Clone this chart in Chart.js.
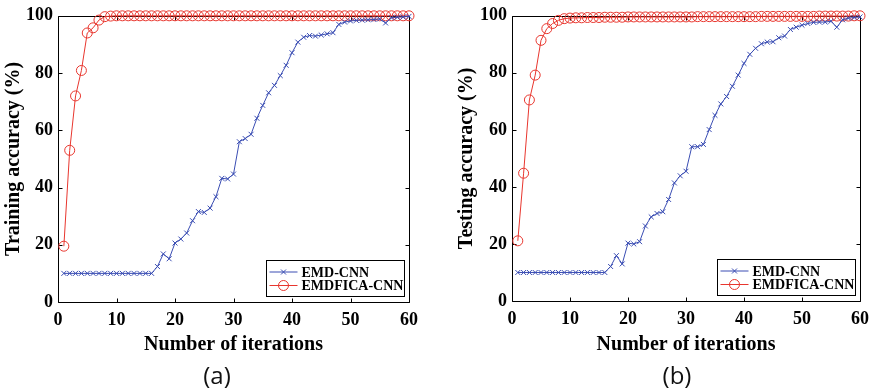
<!DOCTYPE html>
<html>
<head>
<meta charset="utf-8">
<script src="https://cdn.jsdelivr.net/npm/chart.js@4.4.1/dist/chart.umd.min.js"></script>
<style>
  body { margin: 0; background: #fff; }
  #wrap { position: relative; width: 877px; height: 390px; }
  .box { position: absolute; top: 0; height: 390px; }
  .cap { position: absolute; font-family: "Open Sans", sans-serif; font-size: 24px; color: #111; transform: translate(-50%, -50%); }
</style>
</head>
<body>
<div id="wrap">
  <div class="box" style="left:0;width:440px"><canvas id="chartA" width="440" height="390"></canvas></div>
  <div class="box" style="left:440px;width:437px"><canvas id="chartB" width="437" height="390"></canvas></div>
  <div class="cap" style="left:217px;top:374px">(a)</div>
  <div class="cap" style="left:677px;top:374px">(b)</div>
</div>
<script>
const iterations = [1,2,3,4,5,6,7,8,9,10,11,12,13,14,15,16,17,18,19,20,
  21,22,23,24,25,26,27,28,29,30,31,32,33,34,35,36,37,38,39,40,
  41,42,43,44,45,46,47,48,49,50,51,52,53,54,55,56,57,58,59,60];

const seriesNames = ["EMD-CNN", "EMDFICA-CNN"];

// (a) training accuracy
const trainEMD = [10,10,10,10,10,10,10,10,10,10,10,10,10,10,10,10,12.4,16.8,15.1,20.6,
  22,24.1,28.4,31.6,31.3,32.8,36.8,43.2,43,44.7,56,57.1,58.6,64.2,68.7,73.1,75.7,79.1,82.7,87.1,
  90.8,92.5,93.1,92.9,93.3,93.7,94.1,97,97.8,98.2,98.4,98.5,98.6,98.7,98.9,97.5,99.3,99.5,99.6,99.8];
const trainEMDFICA = [19.5,53,72,80.9,94,95.8,98.5,99.7,99.9,100,100,100,100,100,100,100,100,100,100,100,
  100,100,100,100,100,100,100,100,100,100,100,100,100,100,100,100,100,100,100,100,
  100,100,100,100,100,100,100,100,100,100,100,100,100,100,100,100,100,100,100,100];

// (b) testing accuracy
const testEMD = [10,10,10,10,10,10,10,10,10,10,10,10,10,10,10,10,12.1,15.9,13,20.3,
  20,20.8,26.3,29.5,30.7,31.3,35.6,41.4,43.9,45.5,54.1,54.1,54.9,60.1,65.1,69.1,71.7,75.3,79.2,83.3,
  86.5,88.6,90.2,90.8,90.9,92.3,92.9,95.2,96,96.7,97.3,97.7,97.8,97.8,98.1,96,98.6,99.2,99.4,99.6];
const testEMDFICA = [21.1,44.8,70.5,79.2,91.4,95.5,97.3,98.4,99,99.2,99.3,99.3,99.4,99.4,99.4,99.5,99.5,99.5,99.5,99.6,
  99.6,99.6,99.6,99.6,99.6,99.6,99.6,99.6,99.6,99.6,99.6,99.7,99.7,99.7,99.7,99.7,99.7,99.7,99.7,99.7,
  99.7,99.7,99.8,99.8,99.8,99.8,99.8,99.8,99.8,99.8,99.8,99.8,99.9,99.9,99.9,99.9,99.9,99.9,100,100];

const xTicks = [0,10,20,30,40,50,60];
const yTicks = [0,20,40,60,80,100];

const BLUE = "#3a4db3";
const RED = "#e8362e";
const serif = "'Liberation Serif', 'Times New Roman', serif";

// matlab style box with inward ticks + legend inside the plot
const boxPlugin = {
  id: "boxAxes",
  beforeDatasetsDraw(chart) {
    const {ctx, chartArea: a, scales: {x, y}} = chart;
    const L = Math.round(a.left) + 0.5, R = Math.round(a.right) + 0.5;
    const T = Math.round(a.top) + 0.5, B = Math.round(a.bottom) + 0.5;
    ctx.save();
    ctx.strokeStyle = "#000";
    ctx.lineWidth = 1;
    ctx.beginPath();
    ctx.rect(L, T, R - L, B - T);
    x.ticks.forEach(t => {
      const px = Math.round(x.getPixelForValue(t.value)) + 0.5;
      ctx.moveTo(px, B); ctx.lineTo(px, B - 4);
      ctx.moveTo(px, T); ctx.lineTo(px, T + 4);
    });
    y.ticks.forEach(t => {
      const py = Math.round(y.getPixelForValue(t.value)) + 0.5;
      ctx.moveTo(L, py); ctx.lineTo(L + 4, py);
      ctx.moveTo(R, py); ctx.lineTo(R - 4, py);
    });
    ctx.stroke();
    ctx.restore();
  },
  afterDatasetsDraw(chart) {
    const {ctx, chartArea: a} = chart;
    const w = 138, h = 36;
    const bx = Math.round(a.right) - 5 - w + 0.5, by = Math.round(a.bottom) - 6 - h + 0.5;
    ctx.save();
    ctx.fillStyle = "#fff";
    ctx.fillRect(bx, by, w, h);
    ctx.strokeStyle = "#000";
    ctx.lineWidth = 1;
    ctx.strokeRect(bx, by, w, h);
    ctx.font = "bold 14px " + serif;
    ctx.textBaseline = "middle";
    chart.data.datasets.forEach((ds, i) => {
      const cy = by + 11.5 + i * 13.5;
      const x0 = bx + 3, x1 = bx + 31, cx = (x0 + x1) / 2;
      ctx.strokeStyle = ds.borderColor;
      ctx.lineWidth = 1;
      ctx.beginPath();
      ctx.moveTo(x0, cy); ctx.lineTo(x1, cy);
      ctx.stroke();
      ctx.beginPath();
      if (ds.pointStyle === "circle") {
        ctx.arc(cx, cy, ds.pointRadius, 0, Math.PI * 2);
      } else {
        const r = 2.5;
        ctx.moveTo(cx - r, cy - r); ctx.lineTo(cx + r, cy + r);
        ctx.moveTo(cx - r, cy + r); ctx.lineTo(cx + r, cy - r);
      }
      ctx.stroke();
      ctx.fillStyle = "#000";
      ctx.fillText(ds.label, bx + 35, cy + 1);
    });
    ctx.restore();
  }
};

function makeChart(id, yTitle, emd, emdfica, geo) {
  return new Chart(document.getElementById(id), {
    type: "line",
    data: {
      datasets: [
        {
          label: seriesNames[0],
          data: iterations.map((it, i) => ({x: it, y: emd[i]})),
          borderColor: BLUE, backgroundColor: BLUE,
          borderWidth: 1, pointStyle: "crossRot", pointRadius: 3.5,
          pointBorderWidth: 1, tension: 0, clip: false
        },
        {
          label: seriesNames[1],
          data: iterations.map((it, i) => ({x: it, y: emdfica[i]})),
          borderColor: RED, backgroundColor: "rgba(255,255,255,0)",
          borderWidth: 1, pointStyle: "circle", pointRadius: 5,
          pointBorderWidth: 1, tension: 0, clip: false
        }
      ]
    },
    options: {
      responsive: false,
      animation: false,
      events: [],
      layout: {padding: {top: geo.top, right: geo.right, left: 0, bottom: 0}},
      plugins: {legend: {display: false}, tooltip: {enabled: false}},
      scales: {
        x: {
          type: "linear", min: 0, max: 60,
          afterBuildTicks: s => { s.ticks = xTicks.map(v => ({value: v})); },
          afterFit: s => { s.height = geo.xh; },
          grid: {display: false, drawTicks: false},
          border: {display: false},
          ticks: {color: "#000", padding: 8, maxRotation: 0,
            font: {family: serif, size: 18, weight: "bold"}},
          title: {display: true, text: "Number of iterations", color: "#000",
            padding: {top: 0, bottom: 33}, font: {family: serif, size: 20, weight: "bold"}}
        },
        y: {
          type: "linear", min: 0, max: 100,
          afterBuildTicks: s => { s.ticks = yTicks.map(v => ({value: v})); },
          afterFit: s => { s.width = geo.yw; },
          grid: {display: false, drawTicks: false},
          border: {display: false},
          ticks: {color: "#000", padding: 5,
            font: {family: serif, size: 18, weight: "bold"}},
          title: {display: true, text: yTitle, color: "#000",
            padding: {top: geo.ytp, bottom: 0}, font: {family: serif, size: 20, weight: "bold"}}
        }
      }
    },
    plugins: [boxPlugin]
  });
}

makeChart("chartA", "Training accuracy (%)", trainEMD, trainEMDFICA,
  {top: 15, right: 31, xh: 88, yw: 58, ytp: 2});
makeChart("chartB", "Testing accuracy (%)", testEMD, testEMDFICA,
  {top: 13, right: 12, xh: 89, yw: 72, ytp: 15});
</script>
</body>
</html>
